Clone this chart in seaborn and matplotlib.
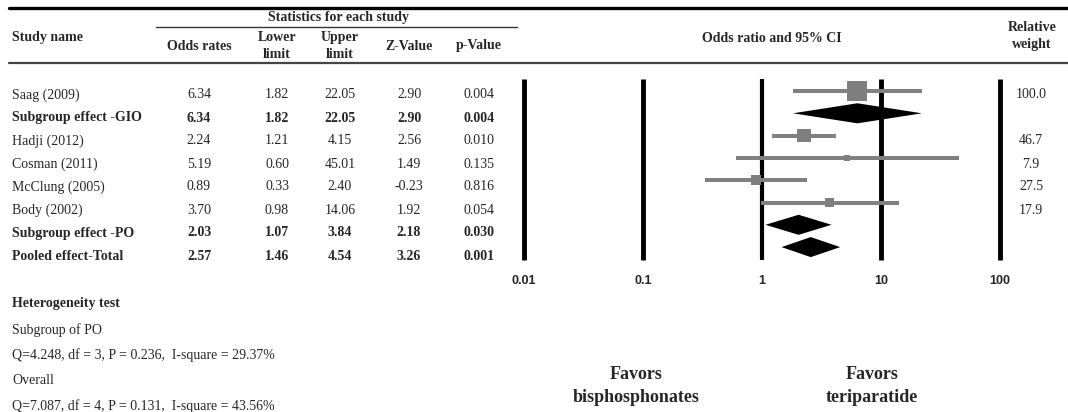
# forest_plot.py
# Forest plot: teriparatide vs bisphosphonates (odds ratio, 95% CI)

import numpy as np
import pandas as pd
import matplotlib
matplotlib.use('Agg')
import matplotlib.pyplot as plt
from matplotlib.lines import Line2D
import seaborn as sns

# ─── Data ────────────────────────────────────────────────────────────────────
study_names = ['Saag (2009)', 'Subgroup effect -GIO', 'Hadji (2012)', 'Cosman (2011)',
               'McClung (2005)', 'Body (2002)', 'Subgroup effect -PO', 'Pooled effect-Total']
odds_ratio = [6.34, 6.34, 2.24, 5.19, 0.89, 3.70, 2.03, 2.57]
lower_limit = [1.82, 1.82, 1.21, 0.60, 0.33, 0.98, 1.07, 1.46]
upper_limit = [22.05, 22.05, 4.15, 45.01, 2.40, 14.06, 3.84, 4.54]
z_values = [2.90, 2.90, 2.56, 1.49, -0.23, 1.92, 2.18, 3.26]
p_values = [0.004, 0.004, 0.010, 0.135, 0.816, 0.054, 0.030, 0.001]
rel_weight = [100.0, None, 46.7, 7.9, 27.5, 17.9, None, None]
is_summary = [False, True, False, False, False, False, True, True]

axis_ticks = [0.01, 0.1, 1, 10, 100]
axis_labels = ['0.01', '0.1', '1', '10', '100']

het_lines = ['Subgroup of PO',
             'Q=4.248, df = 3, P = 0.236,  I-square = 29.37%',
             'Overall',
             'Q=7.087, df = 4, P = 0.131,  I-square = 43.56%']

df = pd.DataFrame({'study': study_names, 'or': odds_ratio, 'lo': lower_limit,
                   'hi': upper_limit, 'w': rel_weight, 'summary': is_summary})
df['row'] = np.arange(len(df))

# ─── Figure setup ────────────────────────────────────────────────────────────
sns.set_style('white')
plt.rcParams['font.family'] = ['Liberation Serif', 'DejaVu Serif']

W, H = 1068, 412
fig = plt.figure(figsize=(W / 100, H / 100), dpi=100)


def fx(x):
    return x / W


def fy(y):
    return 1 - y / H


def put(x, y, s, **kw):
    kw.setdefault('fontsize', 10)
    kw.setdefault('va', 'center')
    fig.text(fx(x), fy(y), s, **kw)


# table rules
fig.add_artist(Line2D([fx(9), 1], [fy(8), fy(8)], color='black', lw=2.4))
fig.add_artist(Line2D([fx(156), fx(517)], [fy(27), fy(27)], color='#333333', lw=1.0))
fig.add_artist(Line2D([fx(9), 1], [fy(63), fy(63)], color='#444444', lw=1.6))

# header
put(12, 38, 'Study name', weight='bold')
put(338, 18, 'Statistics for each study', weight='bold', ha='center')
col_x = [199, 277, 340, 409, 479]
put(col_x[0], 46, 'Odds rates', weight='bold', ha='center')
put(col_x[1], 46, 'Lower\nlimit', weight='bold', ha='center', linespacing=1.35)
put(col_x[2], 46, 'Upper\nlimit', weight='bold', ha='center', linespacing=1.35)
put(col_x[3], 46, 'Z-Value', weight='bold', ha='center')
put(col_x[4], 46, 'p-Value', weight='bold', ha='center')
put(772, 38, 'Odds ratio and 95% CI', weight='bold', ha='center')
put(1032, 36, 'Relative\nweight', weight='bold', ha='center', linespacing=1.4)

# table rows
for i, r in df.iterrows():
    y = 95 + 23 * i
    wt = 'bold' if r['summary'] else 'normal'
    put(12, y, r['study'], weight=wt)
    vals = [f"{odds_ratio[i]:.2f}", f"{lower_limit[i]:.2f}", f"{upper_limit[i]:.2f}",
            f"{z_values[i]:.2f}", f"{p_values[i]:.3f}"]
    for cx, v in zip(col_x, vals):
        put(cx, y, v, weight=wt, ha='center')
    if rel_weight[i] is not None:
        put(1031, y, f"{rel_weight[i]:.1f}", ha='center')

# heterogeneity block
put(12, 304, 'Heterogeneity test', weight='bold')
for k, s in enumerate(het_lines):
    put(12, 330 + 25.5 * k, s)

put(636, 386, 'Favors\nbisphosphonates', weight='bold', ha='center', fontsize=13,
    linespacing=1.45)
put(872, 386, 'Favors\nteriparatide', weight='bold', ha='center', fontsize=13,
    linespacing=1.45)

# ─── Forest panel ────────────────────────────────────────────────────────────
ax = fig.add_axes([fx(524), fy(260), fx(1000) - fx(524), (260 - 79) / H])
ax.set_xscale('log')
ax.set_xlim(0.01, 100)
ax.set_ylim((260 - 91) / 22.3, (79 - 91) / 22.3)
for sp in ax.spines.values():
    sp.set_visible(False)

for t in axis_ticks:
    ax.axvline(t, color='black', lw=3.0 if t == 1 else 3.5, clip_on=False,
               solid_capstyle='butt', zorder=1)

studies = df[~df['summary']]
ax.hlines(studies['row'], studies['lo'], studies['hi'], color='#808080', lw=2.9, zorder=2)
sns.scatterplot(data=studies, x='or', y='row', size='w', sizes=(0, 207),
                size_norm=(0, 100), marker='s', color='#7f7f7f', edgecolor='none',
                linewidth=0, legend=False, ax=ax, zorder=3)

h = 0.45
for _, r in df[df['summary']].iterrows():
    ax.fill([r['lo'], r['or'], r['hi'], r['or']],
            [r['row'], r['row'] - h, r['row'], r['row'] + h],
            color='black', zorder=4, lw=0)

ax.set_xticks(axis_ticks, labels=axis_labels)
ax.minorticks_off()
ax.tick_params(axis='x', length=0, pad=11)
for lab in ax.get_xticklabels():
    lab.set_fontfamily('Liberation Sans')
    lab.set_fontweight('bold')
    lab.set_fontsize(9)
ax.set_yticks([])
ax.set_xlabel('')
ax.set_ylabel('')

plt.savefig('out.png', dpi=100)
